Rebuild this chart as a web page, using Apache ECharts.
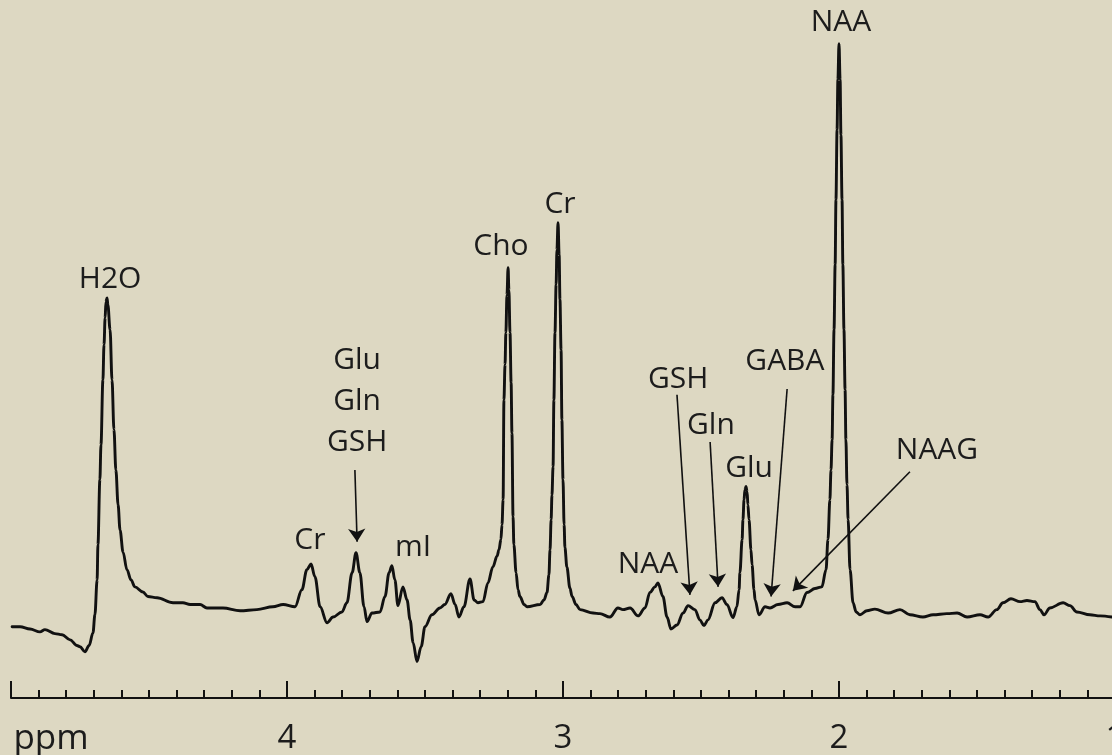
<!DOCTYPE html>
<html>
<head>
<meta charset="utf-8">
<title>1H MR spectrum</title>
<script src="https://cdn.jsdelivr.net/npm/echarts@6/dist/echarts.min.js"></script>
<style>
  html, body { margin: 0; padding: 0; background: #ddd8c2; }
  #chart { width: 1112px; height: 755px; }
</style>
</head>
<body>
<div id="chart"></div>
<script>
// Spectrum trace: [chemical shift (ppm), signal intensity (a.u.)], from 5 ppm down to 1 ppm
const spectrumPoints = [
  [4.996, -3.5], [4.967, -3.5], [4.931, -3.9], [4.895, -4.4], [4.877, -4.0],
  [4.841, -4.7], [4.815, -4.9], [4.786, -5.8], [4.761, -6.8], [4.750, -7.0],
  [4.732, -7.9], [4.717, -6.8], [4.703, -4.6], [4.696, -1.4], [4.688, 4.7],
  [4.685, 10.9], [4.678, 22.3], [4.674, 28.4], [4.667, 39.8], [4.663, 46.0],
  [4.659, 50.7], [4.656, 53.5], [4.652, 54.2], [4.649, 53.0], [4.641, 48.6],
  [4.634, 39.8], [4.627, 31.1], [4.620, 24.0], [4.612, 17.9], [4.605, 13.5],
  [4.594, 9.6], [4.580, 6.5], [4.565, 4.7], [4.551, 3.5], [4.522, 2.6],
  [4.504, 1.8], [4.471, 1.6], [4.413, 0.7], [4.377, 0.7], [4.351, 0.4],
  [4.315, 0.4], [4.290, -0.2], [4.232, -0.2], [4.170, -0.7], [4.109, -0.5],
  [4.051, 0.0], [4.014, 0.4], [3.971, 0.0], [3.946, 3.0], [3.928, 6.5],
  [3.913, 7.5], [3.899, 5.3], [3.880, 0.0], [3.855, -2.8], [3.833, -1.8],
  [3.801, -0.9], [3.783, 0.7], [3.764, 6.0], [3.750, 9.5], [3.736, 6.0],
  [3.721, 0.0], [3.710, -2.6], [3.692, -1.1], [3.663, -0.9], [3.645, 1.8],
  [3.630, 6.0], [3.620, 7.2], [3.609, 4.7], [3.598, 0.2], [3.580, 3.5],
  [3.565, 1.2], [3.554, -2.3], [3.543, -6.3], [3.529, -9.6], [3.514, -7.0],
  [3.500, -3.5], [3.475, -1.4], [3.446, -0.2], [3.428, 0.4], [3.406, 2.3],
  [3.391, 0.4], [3.377, -1.8], [3.359, 0.0], [3.337, 4.9], [3.322, 1.2],
  [3.308, 0.7], [3.290, 0.9], [3.272, 4.2], [3.254, 7.0], [3.239, 8.9],
  [3.232, 10.0], [3.225, 11.8], [3.221, 14.4], [3.217, 18.8], [3.214, 36.3],
  [3.210, 42.5], [3.207, 48.1], [3.203, 54.7], [3.199, 59.5], [3.196, 55.6],
  [3.192, 48.1], [3.188, 39.3], [3.185, 30.5], [3.181, 15.8], [3.178, 10.9],
  [3.170, 6.0], [3.163, 3.0], [3.156, 1.8], [3.141, 0.4], [3.130, 0.0],
  [3.083, 0.4], [3.069, 1.2], [3.058, 2.5], [3.051, 5.6], [3.047, 10.0],
  [3.043, 15.3], [3.040, 19.6], [3.036, 24.6], [3.033, 36.3], [3.029, 48.1],
  [3.025, 56.5], [3.022, 62.6], [3.018, 67.4], [3.014, 61.8], [3.011, 53.9],
  [3.007, 45.1], [3.004, 32.8], [3.000, 22.3], [2.996, 14.4], [2.993, 10.4],
  [2.986, 7.0], [2.975, 3.3], [2.967, 1.8], [2.953, 0.4], [2.938, -0.5],
  [2.891, -1.1], [2.866, -1.2], [2.830, -1.8], [2.801, -0.2], [2.783, -0.5],
  [2.757, -0.2], [2.728, -1.6], [2.703, -0.2], [2.685, 2.5], [2.667, 3.5],
  [2.656, 4.2], [2.638, 1.8], [2.623, -1.8], [2.609, -3.9], [2.587, -3.2],
  [2.565, -1.1], [2.547, 0.2], [2.522, -0.5], [2.504, -2.3], [2.489, -3.3],
  [2.475, -2.3], [2.449, 0.7], [2.424, 1.6], [2.406, 0.4], [2.384, -1.9],
  [2.370, 0.0], [2.362, 3.0], [2.359, 6.0], [2.351, 11.8], [2.348, 15.3],
  [2.344, 18.8], [2.341, 20.5], [2.337, 21.1], [2.333, 20.2], [2.330, 17.9],
  [2.326, 15.3], [2.319, 10.0], [2.315, 7.4], [2.308, 3.0], [2.304, 1.2],
  [2.290, -1.4], [2.268, 0.0], [2.250, -0.2], [2.221, 0.4], [2.188, 0.7],
  [2.159, 0.0], [2.141, 0.0], [2.116, 2.5], [2.087, 3.2], [2.062, 3.5],
  [2.047, 6.5], [2.040, 11.8], [2.033, 18.8], [2.029, 24.0], [2.025, 29.3],
  [2.022, 37.2], [2.018, 48.6], [2.014, 60.0], [2.011, 71.4], [2.007, 83.7],
  [2.004, 92.5], [2.000, 98.8], [1.996, 92.5], [1.993, 82.8], [1.989, 71.4],
  [1.986, 60.0], [1.982, 48.6], [1.978, 38.1], [1.975, 29.3], [1.971, 21.4],
  [1.967, 15.3], [1.960, 6.5], [1.949, 0.7], [1.938, -0.9], [1.924, -1.4],
  [1.899, -0.7], [1.870, -0.4], [1.822, -1.1], [1.779, -0.5], [1.743, -1.4],
  [1.696, -1.8], [1.659, -1.4], [1.609, -1.2], [1.572, -1.1], [1.536, -1.8],
  [1.489, -1.4], [1.460, -1.8], [1.428, -0.5], [1.406, 0.7], [1.377, 1.4],
  [1.344, 0.9], [1.319, 1.1], [1.290, 0.9], [1.272, -0.5], [1.257, -1.4],
  [1.236, -0.2], [1.188, 0.7], [1.163, 0.2], [1.138, -0.9], [1.091, -1.4],
  [1.054, -1.6], [1.011, -1.8]
];

// Metabolite labels: [text, ppm, intensity] at the centre of each label
const peakLabels = [
  ['H2O', 4.641, 57.5],
  ['Glu\nGln\nGSH', 3.746, 36.0],
  ['Cr', 3.917, 11.6],
  ['mI', 3.543, 10.4],
  ['Cho', 3.225, 63.2],
  ['Cr', 3.011, 70.5],
  ['NAA', 2.692, 7.4],
  ['GSH', 2.583, 39.8],
  ['Gln', 2.464, 31.9],
  ['Glu', 2.326, 24.2],
  ['GABA', 2.196, 43.0],
  ['NAAG', 1.645, 27.4],
  ['NAA', 1.993, 102.5]
];

// Pointer arrows: [fromPpm, fromIntensity, toPpm, toIntensity]
const pointerArrows = [
  [3.754, 24.0, 3.746, 11.4],
  [2.587, 37.2, 2.540, 2.1],
  [2.467, 28.9, 2.438, 3.5],
  [2.188, 38.2, 2.246, 1.8],
  [1.743, 23.7, 2.167, 2.8]
];

// Tick labels on the shift axis
const axisTickLabels = { 5: 'ppm', 4: '4', 3: '3', 2: '2', 1: '1' };

const ink = '#111111';
const textInk = '#1c1c1c';
const fontFamily = '"Open Sans", "Noto Sans", sans-serif';

const chart = echarts.init(document.getElementById('chart'), null, { renderer: 'canvas' });

chart.setOption({
  backgroundColor: '#ddd8c2',
  animation: false,
  grid: { left: 11, width: 1104, top: 14, bottom: 57, containLabel: false, outerBoundsMode: 'none' },
  xAxis: {
    type: 'value',
    min: 1,
    max: 5,
    interval: 1,
    inverse: true,
    splitLine: { show: false },
    axisLine: { show: true, onZero: false, lineStyle: { color: ink, width: 2 } },
    axisTick: { show: true, inside: true, length: 17, lineStyle: { color: ink, width: 2 } },
    minorTick: { show: true, splitNumber: 10, length: 8, lineStyle: { color: ink, width: 2 } },
    minorSplitLine: { show: false },
    axisLabel: {
      show: true,
      margin: 24,
      color: textInk,
      fontFamily: fontFamily,
      fontSize: 33,
      hideOverlap: false,
      showMinLabel: true,
      showMaxLabel: true,
      formatter: function (v) {
        const t = axisTickLabels[Math.round(v)];
        if (t === 'ppm') return '{p|ppm}';
        return t || '';
      },
      rich: {
        p: { fontSize: 35, fontFamily: fontFamily, color: textInk, padding: [0, 0, 4, 80] }
      }
    }
  },
  yAxis: {
    type: 'value',
    min: -16,
    max: 104,
    show: false,
    splitLine: { show: false }
  },
  series: [
    {
      name: 'spectrum',
      type: 'line',
      data: spectrumPoints,
      showSymbol: false,
      smooth: 0.35,
      smoothMonotone: 'x',
      lineStyle: { color: ink, width: 2.9, join: 'round', cap: 'round' },
      silent: true,
      z: 3,
      markLine: {
        silent: true,
        symbol: ['none', 'arrow'],
        symbolSize: 13,
        label: { show: false },
        lineStyle: { color: ink, width: 1.6, type: 'solid' },
        itemStyle: { color: ink },
        emphasis: { disabled: true },
        data: pointerArrows.map(function (a) {
          return [{ coord: [a[0], a[1]] }, { coord: [a[2], a[3]] }];
        })
      }
    },
    {
      name: 'labels',
      type: 'scatter',
      symbolSize: 0,
      silent: true,
      z: 4,
      data: peakLabels.map(function (l) { return { name: l[0], value: [l[1], l[2]] }; }),
      label: {
        show: true,
        position: 'inside',
        formatter: '{b}',
        color: textInk,
        opacity: 1,
        textBorderWidth: 0,
        textBorderColor: 'transparent',
        fontFamily: fontFamily,
        fontSize: 30,
        lineHeight: 41,
        align: 'center',
        verticalAlign: 'middle'
      }
    }
  ]
});
</script>
</body>
</html>
